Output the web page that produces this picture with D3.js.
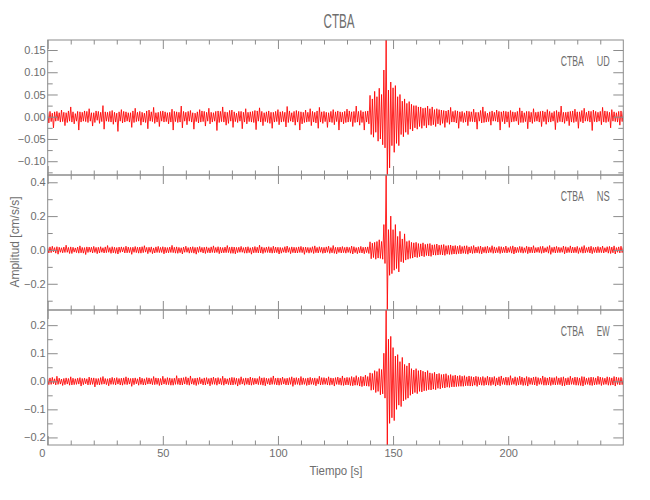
<!DOCTYPE html>
<html><head><meta charset="utf-8">
<script src="https://cdn.jsdelivr.net/npm/d3@7"></script>
<style>
body{margin:0;background:#fff}
svg text{font-family:"Liberation Sans",Arial,sans-serif;fill:#6e6e6e}
</style>
</head><body>
<svg id="c" width="650" height="500"></svg>
<script>
// ---------------- data ----------------
const station = "CTBA";
const components = ["UD", "NS", "EW"];
const xLabel = "Tiempo [s]";
const yLabel = "Amplitud [cm/s/s]";
const timeStep = 1;            // seconds per envelope bin (max and min read per bin)
const xDomain = [0, 250];
const xMajorTicks = [0, 50, 100, 150, 200];
const xMinorTicks = [10,20,30,40,60,70,80,90,110,120,130,140,160,170,180,190,210,220,230,240];

// UD component (cm/s/s): maximum and minimum in each 1 s bin, 0..250 s
const udMax = [
 .010,.012,.008,.011,.012,.009,.015,.010,.009,.013,
 .022,.011,.007,.012,.011,.010,.013,.012,.018,.009,
 .009,.013,.012,.010,.025,.011,.010,.012,.014,.010,
 .008,.011,.016,.012,.011,.009,.009,.013,.019,.010,
 .012,.010,.008,.013,.015,.011,.021,.009,.010,.012,
 .013,.011,.009,.010,.017,.012,.011,.010,.024,.012,
 .010,.012,.014,.009,.008,.011,.016,.013,.012,.010,
 .019,.010,.009,.012,.013,.012,.022,.011,.010,.014,
 .015,.011,.008,.012,.012,.010,.018,.010,.011,.012,
 .014,.013,.020,.012,.009,.011,.013,.010,.010,.012,
 .016,.011,.012,.010,.023,.013,.009,.012,.014,.012,
 .011,.010,.015,.010,.018,.012,.010,.013,.021,.011,
 .012,.010,.009,.012,.016,.011,.013,.011,.010,.012,
 .017,.013,.011,.012,.024,.012,.014,.011,.012,.013,
 .048,.040,.057,.045,.064,.050,.105,.1725,.060,.078,
 .065,.070,.045,.050,.035,.040,.030,.034,.028,.025,
 .025,.022,.022,.019,.020,.024,.018,.022,.016,.018,
 .016,.015,.014,.013,.015,.021,.012,.014,.013,.011,
 .012,.009,.013,.012,.011,.017,.010,.010,.014,.022,
 .012,.008,.011,.013,.010,.015,.012,.011,.013,.012,
 .011,.014,.011,.010,.012,.020,.013,.009,.012,.012,
 .010,.018,.010,.011,.012,.013,.011,.016,.012,.009,
 .012,.014,.011,.024,.010,.010,.011,.012,.013,.017,
 .011,.011,.014,.019,.010,.013,.012,.015,.012,.010,
 .012,.021,.013,.012,.010,.016,.011,.009,.012,.013,
 .012
];
const udMin = [
 -.014,-.011,-.025,-.010,-.009,-.012,-.011,-.020,-.013,-.010,
 -.012,-.016,-.010,-.030,-.012,-.010,-.011,-.013,-.010,-.021,
 -.013,-.008,-.015,-.011,-.028,-.010,-.011,-.012,-.017,-.012,
 -.033,-.010,-.014,-.012,-.010,-.012,-.024,-.013,-.011,-.010,
 -.019,-.012,-.013,-.027,-.010,-.011,-.015,-.012,-.022,-.010,
 -.012,-.011,-.016,-.012,-.030,-.011,-.013,-.012,-.025,-.010,
 -.018,-.010,-.012,-.028,-.011,-.014,-.012,-.011,-.021,-.010,
 -.016,-.012,-.010,-.031,-.013,-.011,-.012,-.019,-.015,-.010,
 -.024,-.011,-.013,-.010,-.027,-.012,-.016,-.011,-.012,-.013,
 -.029,-.010,-.012,-.020,-.011,-.013,-.015,-.026,-.012,-.011,
 -.018,-.012,-.011,-.023,-.013,-.010,-.012,-.019,-.012,-.030,
 -.016,-.013,-.012,-.011,-.020,-.012,-.014,-.026,-.012,-.015,
 -.011,-.024,-.012,-.013,-.018,-.011,-.030,-.012,-.016,-.013,
 -.012,-.011,-.022,-.013,-.012,-.019,-.013,-.030,-.012,-.016,
 -.040,-.046,-.035,-.055,-.050,-.063,-.070,-.131,-.115,-.065,
 -.080,-.060,-.065,-.040,-.045,-.035,-.040,-.028,-.032,-.025,
 -.028,-.022,-.026,-.020,-.025,-.019,-.020,-.018,-.022,-.016,
 -.019,-.015,-.024,-.013,-.017,-.012,-.012,-.014,-.026,-.011,
 -.013,-.012,-.020,-.011,-.011,-.012,-.028,-.010,-.014,-.013,
 -.012,-.011,-.019,-.010,-.010,-.012,-.030,-.011,-.016,-.012,
 -.024,-.012,-.011,-.010,-.018,-.013,-.013,-.011,-.027,-.012,
 -.015,-.011,-.010,-.012,-.022,-.011,-.017,-.012,-.012,-.010,
 -.029,-.013,-.011,-.012,-.015,-.010,-.020,-.012,-.013,-.011,
 -.026,-.011,-.014,-.010,-.010,-.012,-.031,-.011,-.012,-.010,
 -.018,-.012,-.013,-.011,-.025,-.010,-.011,-.012,-.019,-.011,
 -.012
];

// NS component
const nsMax = [
 .015,.018,.022,.014,.019,.016,.013,.017,.028,.015,
 .018,.016,.012,.017,.024,.015,.014,.018,.017,.016,
 .021,.015,.016,.019,.013,.018,.026,.014,.019,.016,
 .014,.017,.018,.015,.022,.017,.015,.016,.020,.016,
 .017,.019,.025,.015,.016,.018,.012,.018,.021,.015,
 .019,.016,.014,.017,.027,.016,.018,.015,.013,.017,
 .022,.014,.017,.019,.015,.016,.020,.015,.016,.018,
 .013,.018,.024,.015,.019,.016,.014,.017,.026,.016,
 .018,.017,.015,.016,.021,.014,.017,.019,.013,.016,
 .020,.016,.028,.018,.014,.017,.019,.015,.022,.017,
 .016,.015,.013,.019,.023,.014,.018,.016,.015,.018,
 .021,.016,.017,.015,.014,.019,.024,.015,.019,.016,
 .015,.018,.022,.014,.026,.016,.016,.017,.020,.015,
 .018,.015,.023,.019,.014,.016,.021,.016,.017,.018,
 .048,.040,.045,.050,.060,.050,.150,.443,.120,.200,
 .120,.150,.080,.110,.065,.095,.050,.055,.045,.042,
 .045,.038,.036,.042,.033,.036,.038,.030,.031,.035,
 .028,.030,.032,.025,.027,.029,.024,.026,.022,.027,
 .020,.024,.025,.018,.021,.026,.017,.020,.023,.016,
 .019,.022,.015,.025,.018,.014,.021,.019,.016,.023,
 .014,.020,.024,.017,.015,.021,.019,.013,.022,.018,
 .017,.025,.014,.016,.020,.022,.013,.019,.026,.015,
 .018,.021,.016,.014,.023,.019,.015,.024,.017,.016,
 .021,.013,.019,.026,.014,.018,.022,.015,.017,.020,
 .016,.023,.013,.019,.021,.017,.024,.014,.018,.022,
 .016
];
const nsMin = [
 -.018,-.016,-.012,-.019,-.025,-.014,-.017,-.015,-.014,-.021,
 -.021,-.013,-.016,-.019,-.017,-.019,-.027,-.015,-.013,-.018,
 -.015,-.022,-.018,-.014,-.018,-.016,-.014,-.020,-.017,-.020,
 -.024,-.015,-.012,-.018,-.017,-.016,-.026,-.014,-.016,-.019,
 -.019,-.016,-.013,-.022,-.014,-.022,-.018,-.015,-.016,-.015,
 -.023,-.017,-.017,-.015,-.016,-.019,-.020,-.016,-.024,-.014,
 -.014,-.019,-.016,-.019,-.025,-.015,-.013,-.018,-.021,-.016,
 -.018,-.015,-.017,-.015,-.022,-.018,-.017,-.016,-.016,-.020,
 -.020,-.023,-.016,-.014,-.014,-.019,-.019,-.016,-.025,-.017,
 -.016,-.018,-.018,-.021,-.015,-.015,-.017,-.019,-.017,-.016,
 -.024,-.019,-.014,-.017,-.014,-.022,-.016,-.018,-.018,-.015,
 -.016,-.026,-.015,-.019,-.015,-.021,-.016,-.018,-.014,-.020,
 -.018,-.014,-.020,-.017,-.020,-.023,-.015,-.018,-.016,-.019,
 -.015,-.019,-.024,-.016,-.022,-.017,-.018,-.022,-.016,-.021,
 -.052,-.045,-.055,-.048,-.050,-.055,-.080,-.355,-.150,-.140,
 -.120,-.110,-.130,-.070,-.075,-.060,-.055,-.050,-.048,-.042,
 -.045,-.040,-.036,-.040,-.033,-.036,-.038,-.030,-.031,-.030,
 -.028,-.030,-.032,-.025,-.027,-.026,-.024,-.025,-.022,-.023,
 -.020,-.022,-.025,-.018,-.021,-.019,-.017,-.020,-.023,-.016,
 -.019,-.017,-.015,-.020,-.018,-.016,-.021,-.017,-.016,-.018,
 -.014,-.019,-.024,-.017,-.015,-.016,-.019,-.015,-.022,-.017,
 -.017,-.018,-.014,-.016,-.020,-.017,-.013,-.019,-.026,-.015,
 -.018,-.016,-.016,-.014,-.023,-.017,-.015,-.018,-.017,-.016,
 -.021,-.015,-.019,-.017,-.014,-.018,-.022,-.015,-.017,-.016,
 -.016,-.018,-.013,-.019,-.021,-.017,-.024,-.014,-.018,-.016,
 -.015
];

// EW component
const ewMax = [
 .010,.012,.014,.009,.018,.011,.008,.010,.012,.010,
 .016,.011,.009,.011,.013,.010,.011,.009,.015,.012,
 .012,.010,.010,.013,.017,.010,.009,.011,.014,.011,
 .013,.010,.011,.012,.016,.012,.010,.011,.012,.009,
 .015,.011,.009,.013,.012,.010,.017,.012,.011,.010,
 .018,.010,.013,.012,.010,.011,.020,.011,.012,.013,
 .016,.012,.019,.010,.011,.012,.014,.009,.012,.013,
 .010,.012,.015,.011,.013,.010,.018,.011,.009,.012,
 .014,.013,.011,.010,.016,.010,.012,.011,.015,.012,
 .011,.010,.017,.012,.013,.011,.010,.013,.019,.011,
 .012,.011,.015,.010,.011,.013,.016,.012,.013,.011,
 .017,.012,.010,.012,.014,.011,.012,.010,.018,.013,
 .013,.011,.016,.012,.011,.013,.015,.012,.019,.012,
 .014,.013,.017,.014,.020,.014,.018,.016,.022,.017,
 .030,.028,.038,.035,.045,.042,.100,.254,.150,.160,
 .120,.090,.095,.070,.085,.060,.055,.065,.045,.040,
 .045,.038,.040,.036,.033,.038,.030,.028,.032,.026,
 .028,.024,.025,.027,.021,.024,.020,.022,.019,.021,
 .018,.020,.016,.019,.017,.015,.018,.016,.014,.017,
 .013,.018,.015,.014,.017,.012,.016,.019,.012,.015,
 .014,.020,.011,.016,.013,.018,.015,.012,.017,.014,
 .012,.015,.016,.013,.011,.019,.014,.012,.015,.013,
 .013,.017,.012,.014,.016,.011,.013,.018,.012,.015,
 .014,.012,.017,.016,.011,.013,.015,.014,.012,.018,
 .015,.013,.011,.016,.014,.012,.017,.015,.013,.014,
 .012
];
const ewMin = [
 -.012,-.011,-.009,-.013,-.011,-.010,-.015,-.012,-.010,-.014,
 -.013,-.012,-.011,-.010,-.017,-.012,-.009,-.013,-.012,-.011,
 -.020,-.012,-.013,-.011,-.010,-.012,-.016,-.011,-.011,-.013,
 -.010,-.013,-.014,-.011,-.012,-.010,-.018,-.012,-.009,-.014,
 -.011,-.013,-.013,-.010,-.010,-.012,-.012,-.011,-.015,-.013,
 -.010,-.012,-.012,-.014,-.014,-.011,-.011,-.013,-.013,-.010,
 -.012,-.014,-.010,-.012,-.015,-.011,-.009,-.013,-.013,-.010,
 -.016,-.011,-.011,-.014,-.010,-.012,-.014,-.010,-.012,-.013,
 -.013,-.011,-.017,-.012,-.010,-.014,-.011,-.013,-.014,-.012,
 -.010,-.012,-.012,-.014,-.016,-.010,-.013,-.011,-.011,-.013,
 -.014,-.012,-.010,-.013,-.013,-.011,-.018,-.012,-.011,-.014,
 -.012,-.011,-.015,-.013,-.011,-.012,-.016,-.010,-.013,-.012,
 -.011,-.013,-.014,-.012,-.017,-.011,-.012,-.014,-.015,-.013,
 -.013,-.015,-.016,-.014,-.014,-.017,-.019,-.016,-.017,-.018,
 -.032,-.030,-.040,-.036,-.048,-.045,-.060,-.227,-.150,-.130,
 -.140,-.100,-.085,-.090,-.070,-.065,-.060,-.050,-.045,-.040,
 -.044,-.036,-.038,-.034,-.033,-.030,-.031,-.028,-.030,-.025,
 -.027,-.023,-.024,-.021,-.022,-.020,-.020,-.019,-.018,-.018,
 -.018,-.016,-.016,-.017,-.017,-.014,-.018,-.013,-.014,-.015,
 -.013,-.014,-.015,-.012,-.017,-.013,-.016,-.011,-.012,-.014,
 -.014,-.012,-.011,-.015,-.013,-.012,-.015,-.014,-.017,-.011,
 -.012,-.013,-.016,-.011,-.011,-.014,-.014,-.013,-.015,-.012,
 -.013,-.012,-.012,-.016,-.016,-.013,-.013,-.011,-.012,-.014,
 -.014,-.015,-.017,-.012,-.011,-.014,-.015,-.013,-.012,-.011,
 -.015,-.012,-.011,-.014,-.014,-.013,-.017,-.011,-.013,-.012,
 -.012
];

const udMajorTicks = [-0.10, -0.05, 0.00, 0.05, 0.10, 0.15];
const udMinorTicks = [-0.125, -0.075, -0.025, 0.025, 0.075, 0.125];
const nsMajorTicks = [-0.2, 0.0, 0.2, 0.4];
const nsMinorTicks = [-0.3, -0.1, 0.1, 0.3];
const ewMajorTicks = [-0.2, -0.1, 0.0, 0.1, 0.2];
const ewMinorTicks = [-0.15, -0.05, 0.05, 0.15];
const tickFormats = [".2f", ".1f", ".1f"];

// ---------------- drawing ----------------
const svg = d3.select("#c");
const left = 47.7, right = 623.3;
const panelTops = [40, 175, 310], panelH = 135;
const axisColor = "#8c8c8c";
const x = d3.scaleLinear().domain(xDomain).range([left, right]);

const maxima = [udMax, nsMax, ewMax];
const minima = [udMin, nsMin, ewMin];
const majors = [udMajorTicks, nsMajorTicks, ewMajorTicks];
const minors = [udMinorTicks, nsMinorTicks, ewMinorTicks];

function styleAxis(g) {
  g.select(".domain").remove();
  g.selectAll(".tick line").attr("stroke", axisColor).attr("stroke-width", 1);
  g.selectAll(".tick text").attr("fill", "#6e6e6e").style("font-size", "11px")
    .style("font-family", '"Liberation Sans", Arial, sans-serif');
}

svg.append("defs").selectAll("clipPath").data(panelTops).join("clipPath")
  .attr("id", (d, i) => "clip" + i)
  .append("rect").attr("x", left).attr("y", d => d).attr("width", right - left).attr("height", panelH);

maxima.forEach((mx, i) => {
  const mn = minima[i];
  const top = panelTops[i], bottom = top + panelH;
  const y = d3.scaleLinear().domain([d3.min(mn), d3.max(mx)]).range([bottom, top]);
  const g = svg.append("g");

  // trace: each bin drawn as its maximum followed by its minimum
  const pts = [];
  mx.forEach((v, k) => {
    pts.push([k * timeStep, v]);
    if (k < mx.length - 1) pts.push([(k + 0.5) * timeStep, mn[k]]);
  });
  const line = d3.line().x(d => x(d[0])).y(d => y(d[1]));
  g.append("path").datum(pts)
    .attr("clip-path", `url(#clip${i})`)
    .attr("d", line)
    .attr("fill", "none").attr("stroke", "#ff0000").attr("stroke-width", 0.85)
    .attr("stroke-linejoin", "round");

  // frame
  g.append("rect").attr("x", left).attr("y", top).attr("width", right - left).attr("height", panelH)
    .attr("fill", "none").attr("stroke", axisColor).attr("stroke-width", 1);

  const fmt = d3.format(tickFormats[i]);
  g.append("g").attr("transform", `translate(${left},0)`)
    .call(d3.axisLeft(y).tickValues(majors[i]).tickSize(-10).tickPadding(2).tickFormat(fmt)).call(styleAxis);
  g.append("g").attr("transform", `translate(${left},0)`)
    .call(d3.axisLeft(y).tickValues(minors[i]).tickSize(-5).tickFormat("")).call(styleAxis);
  g.append("g").attr("transform", `translate(${right},0)`)
    .call(d3.axisRight(y).tickValues(majors[i]).tickSize(-10).tickFormat("")).call(styleAxis);
  g.append("g").attr("transform", `translate(${right},0)`)
    .call(d3.axisRight(y).tickValues(minors[i]).tickSize(-5).tickFormat("")).call(styleAxis);
  g.append("g").attr("transform", `translate(0,${top})`)
    .call(d3.axisTop(x).tickValues(xMajorTicks).tickSize(-9).tickFormat("")).call(styleAxis);
  g.append("g").attr("transform", `translate(0,${top})`)
    .call(d3.axisTop(x).tickValues(xMinorTicks).tickSize(-4.5).tickFormat("")).call(styleAxis);
  const bx = g.append("g").attr("transform", `translate(0,${bottom})`)
    .call(d3.axisBottom(x).tickValues(xMajorTicks).tickSize(-9).tickPadding(4)
      .tickFormat(i === maxima.length - 1 ? d3.format("d") : "")).call(styleAxis);
  bx.selectAll(".tick text").filter(d => d === 0).attr("dx", -6);
  g.append("g").attr("transform", `translate(0,${bottom})`)
    .call(d3.axisBottom(x).tickValues(xMinorTicks).tickSize(-4.5).tickFormat("")).call(styleAxis);

  const lab = g.append("g").style("font-size", "14px");
  lab.append("text").attr("x", 560.7).attr("y", top + 26).attr("textLength", 23)
    .attr("lengthAdjust", "spacingAndGlyphs").text(station);
  lab.append("text").attr("x", 596.7).attr("y", top + 26).attr("textLength", 13)
    .attr("lengthAdjust", "spacingAndGlyphs").text(components[i]);
});

svg.append("text").attr("x", 339).attr("y", 28).attr("text-anchor", "middle")
  .style("font-size", "21px").attr("textLength", 31).attr("lengthAdjust", "spacingAndGlyphs").text(station);
svg.append("text").attr("x", 336).attr("y", 475).attr("text-anchor", "middle")
  .style("font-size", "13px").attr("textLength", 53).attr("lengthAdjust", "spacingAndGlyphs").text(xLabel);
svg.append("text").attr("transform", "translate(19,242) rotate(-90)").attr("text-anchor", "middle")
  .style("font-size", "13px").attr("textLength", 91).attr("lengthAdjust", "spacingAndGlyphs").text(yLabel);
</script>
</body></html>
